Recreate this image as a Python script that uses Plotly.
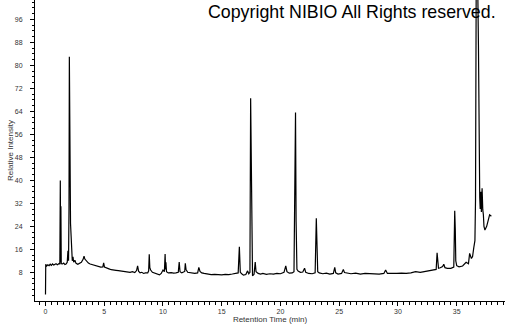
import plotly.graph_objects as go

# Retention time (min) and relative intensity
rt_min = [
    0.00, 0.02, 0.10, 0.20, 0.30, 0.40, 0.50, 0.60, 0.70, 0.80, 0.90, 1.00, 1.10, 1.18, 1.22,
    1.26, 1.29, 1.31, 1.34, 1.45, 1.55, 1.65, 1.75, 1.85, 1.91, 1.96, 2.00, 2.03, 2.06, 2.09,
    2.13, 2.18, 2.22, 2.28, 2.34, 2.40, 2.50, 2.60, 2.75, 2.90, 3.05, 3.20, 3.28, 3.35, 3.50,
    3.65, 3.80, 3.95, 4.10, 4.30, 4.50, 4.70, 4.88, 4.95, 5.02, 5.20, 5.40, 5.60, 5.80, 6.00,
    6.20, 6.40, 6.60, 6.80, 7.00, 7.20, 7.40, 7.60, 7.75, 7.84, 7.92, 8.05, 8.20, 8.35, 8.50,
    8.70, 8.78, 8.83, 8.88, 8.95, 9.10, 9.30, 9.50, 9.70, 9.85, 10.00, 10.12, 10.18, 10.22, 10.25,
    10.30, 10.45, 10.70, 10.90, 11.10, 11.30, 11.38, 11.45, 11.60, 11.75, 11.85, 11.90, 11.96, 12.10, 12.40,
    12.70, 12.95, 13.05, 13.15, 13.30, 13.50, 13.80, 14.10, 14.40, 14.70, 15.00, 15.30, 15.60, 15.90, 16.20,
    16.40, 16.50, 16.58, 16.70, 16.85, 17.05, 17.20, 17.30, 17.40, 17.46, 17.51, 17.56, 17.62, 17.75, 17.85,
    17.92, 18.10, 18.30, 18.50, 18.80, 19.10, 19.40, 19.70, 20.00, 20.30, 20.45, 20.55, 20.75, 21.00, 21.15,
    21.22, 21.28, 21.33, 21.40, 21.50, 21.70, 21.90, 22.05, 22.15, 22.40, 22.70, 22.95, 23.05, 23.10, 23.17,
    23.30, 23.60, 23.90, 24.20, 24.50, 24.62, 24.70, 24.90, 25.20, 25.35, 25.45, 25.70, 26.00, 26.40, 26.80,
    27.20, 27.60, 28.00, 28.40, 28.80, 28.95, 29.10, 29.50, 29.90, 30.30, 30.70, 31.10, 31.50, 31.90, 32.30,
    32.70, 33.00, 33.25, 33.33, 33.38, 33.45, 33.60, 33.80, 33.90, 34.00, 34.20, 34.50, 34.75, 34.83, 34.88,
    34.92, 35.00, 35.20, 35.50, 35.80, 36.00, 36.10, 36.25, 36.35, 36.45, 36.55, 36.60, 36.63, 36.66, 36.72,
    36.78, 36.85, 36.92, 36.96, 37.00, 37.05, 37.10, 37.16, 37.22, 37.27, 37.32, 37.40, 37.55, 37.70, 37.80,
    37.95, 38.05, 38.10,
]
rel_intensity = [
    0.3, 10.8, 10.2, 10.6, 10.3, 10.8, 10.4, 10.9, 10.5, 10.7, 11.0, 10.6, 10.9, 11.1, 10.8,
    39.9, 11.5, 31.0, 11.0, 10.9, 11.2, 10.7, 10.9, 11.5, 15.5, 12.0, 30.0, 83.0, 40.0, 65.0,
    25.0, 20.6, 13.0, 12.0, 13.4, 11.5, 12.2, 11.1, 10.8, 11.2, 11.5, 12.5, 13.6, 12.6, 11.8,
    11.2, 10.9, 10.7, 10.5, 10.3, 10.1, 9.8, 9.9, 11.3, 9.8, 9.4, 9.2, 8.9, 8.9, 8.7,
    8.6, 8.5, 8.3, 8.4, 8.2, 8.0, 8.2, 7.9, 8.6, 10.2, 8.4, 7.8, 8.0, 7.6, 7.8,
    7.8, 8.5, 14.3, 9.6, 8.8, 8.0, 7.7, 7.4, 7.1, 7.6, 8.8, 8.2, 14.4, 9.0, 11.5,
    8.2, 7.8, 7.9, 7.7, 7.8, 8.0, 11.6, 8.2, 7.8, 8.0, 8.3, 11.1, 9.0, 8.0, 7.8,
    7.6, 7.8, 9.7, 8.3, 7.8, 7.6, 7.4, 7.2, 7.3, 7.2, 7.1, 7.3, 7.2, 7.4, 7.5,
    7.8, 16.9, 8.0, 7.5, 7.0, 7.2, 8.5, 7.5, 8.0, 68.5, 49.5, 8.5, 6.8, 7.3, 11.6,
    8.2, 7.6, 7.4, 7.6, 7.3, 7.5, 7.4, 7.6, 7.5, 8.0, 10.2, 8.2, 7.7, 7.8, 8.2,
    37.8, 63.6, 25.6, 9.0, 8.4, 8.0, 8.1, 9.4, 8.0, 7.6, 7.5, 7.8, 26.8, 19.2, 8.2,
    7.8, 7.5, 7.7, 7.4, 7.6, 9.7, 7.8, 7.4, 7.6, 9.0, 7.9, 7.6, 7.5, 7.7, 7.4,
    7.6, 7.5, 7.6, 7.4, 7.6, 8.8, 7.6, 7.5, 7.6, 7.7, 7.6, 7.8, 8.2, 8.0, 8.3,
    8.5, 8.8, 9.0, 14.8, 11.0, 9.4, 9.6, 10.0, 10.8, 9.6, 9.4, 9.4, 9.8, 29.4, 22.7,
    12.0, 10.3, 9.9, 10.2, 11.5, 11.0, 14.6, 12.8, 13.5, 16.5, 19.0, 33.0, 87.0, 110.0,
    110.0, 110.0, 87.0, 40.0, 34.0, 30.0, 36.0, 29.0, 37.2, 29.7, 28.0, 24.0, 22.7, 24.0,
    26.0, 28.0, 27.5,
]

x_major_ticks = [0, 5, 10, 15, 20, 25, 30, 35]
y_major_ticks = [8, 16, 24, 32, 40, 48, 56, 64, 72, 80, 88, 96]

fig = go.Figure()
fig.add_trace(go.Scatter(
    x=rt_min, y=rel_intensity, mode="lines",
    line=dict(color="black", width=1.2), hoverinfo="skip", showlegend=False,
))

tick_font = dict(family="Liberation Sans, Arial, sans-serif", size=7, color="#333333")

fig.update_layout(
    width=505, height=325,
    margin=dict(l=35, r=0, t=0, b=24),
    paper_bgcolor="white", plot_bgcolor="white",
    xaxis=dict(
        range=[-0.894, 39.11], tickvals=x_major_ticks,
        ticktext=[str(v) for v in x_major_ticks],
        ticks="outside", ticklen=4, tickwidth=1, tickcolor="black",
        showline=True, linecolor="black", linewidth=1,
        showgrid=False, zeroline=False, tickfont=tick_font,
        minor=dict(dtick=0.5, tick0=0, ticks="outside", ticklen=3, tickcolor="black", showgrid=False),
        title=dict(text="Retention Time (min)", standoff=0,
                   font=dict(family="Liberation Sans, Arial, sans-serif", size=8, color="#333333")),
    ),
    yaxis=dict(
        range=[-1.98, 102.7], tickvals=y_major_ticks,
        ticktext=[str(v) for v in y_major_ticks],
        ticks="outside", ticklen=4, tickwidth=1, tickcolor="black",
        ticklabelstandoff=6,
        showline=True, linecolor="black", linewidth=1,
        showgrid=False, zeroline=False, tickfont=tick_font,
        minor=dict(dtick=2, tick0=0, ticks="outside", ticklen=2, tickcolor="black", showgrid=False),
        title=dict(text="Relative Intensity", standoff=0,
                   font=dict(family="Liberation Sans, Arial, sans-serif", size=8, color="#333333")),
    ),
    annotations=[dict(
        text="Copyright NIBIO All Rights reserved.", xref="paper", yref="paper",
        x=0.985, y=1.0, xanchor="right", yanchor="top", showarrow=False,
        font=dict(family="Liberation Sans, Arial, sans-serif", size=17.8, color="black"),
    )],
)

fig.write_html("out.html")
